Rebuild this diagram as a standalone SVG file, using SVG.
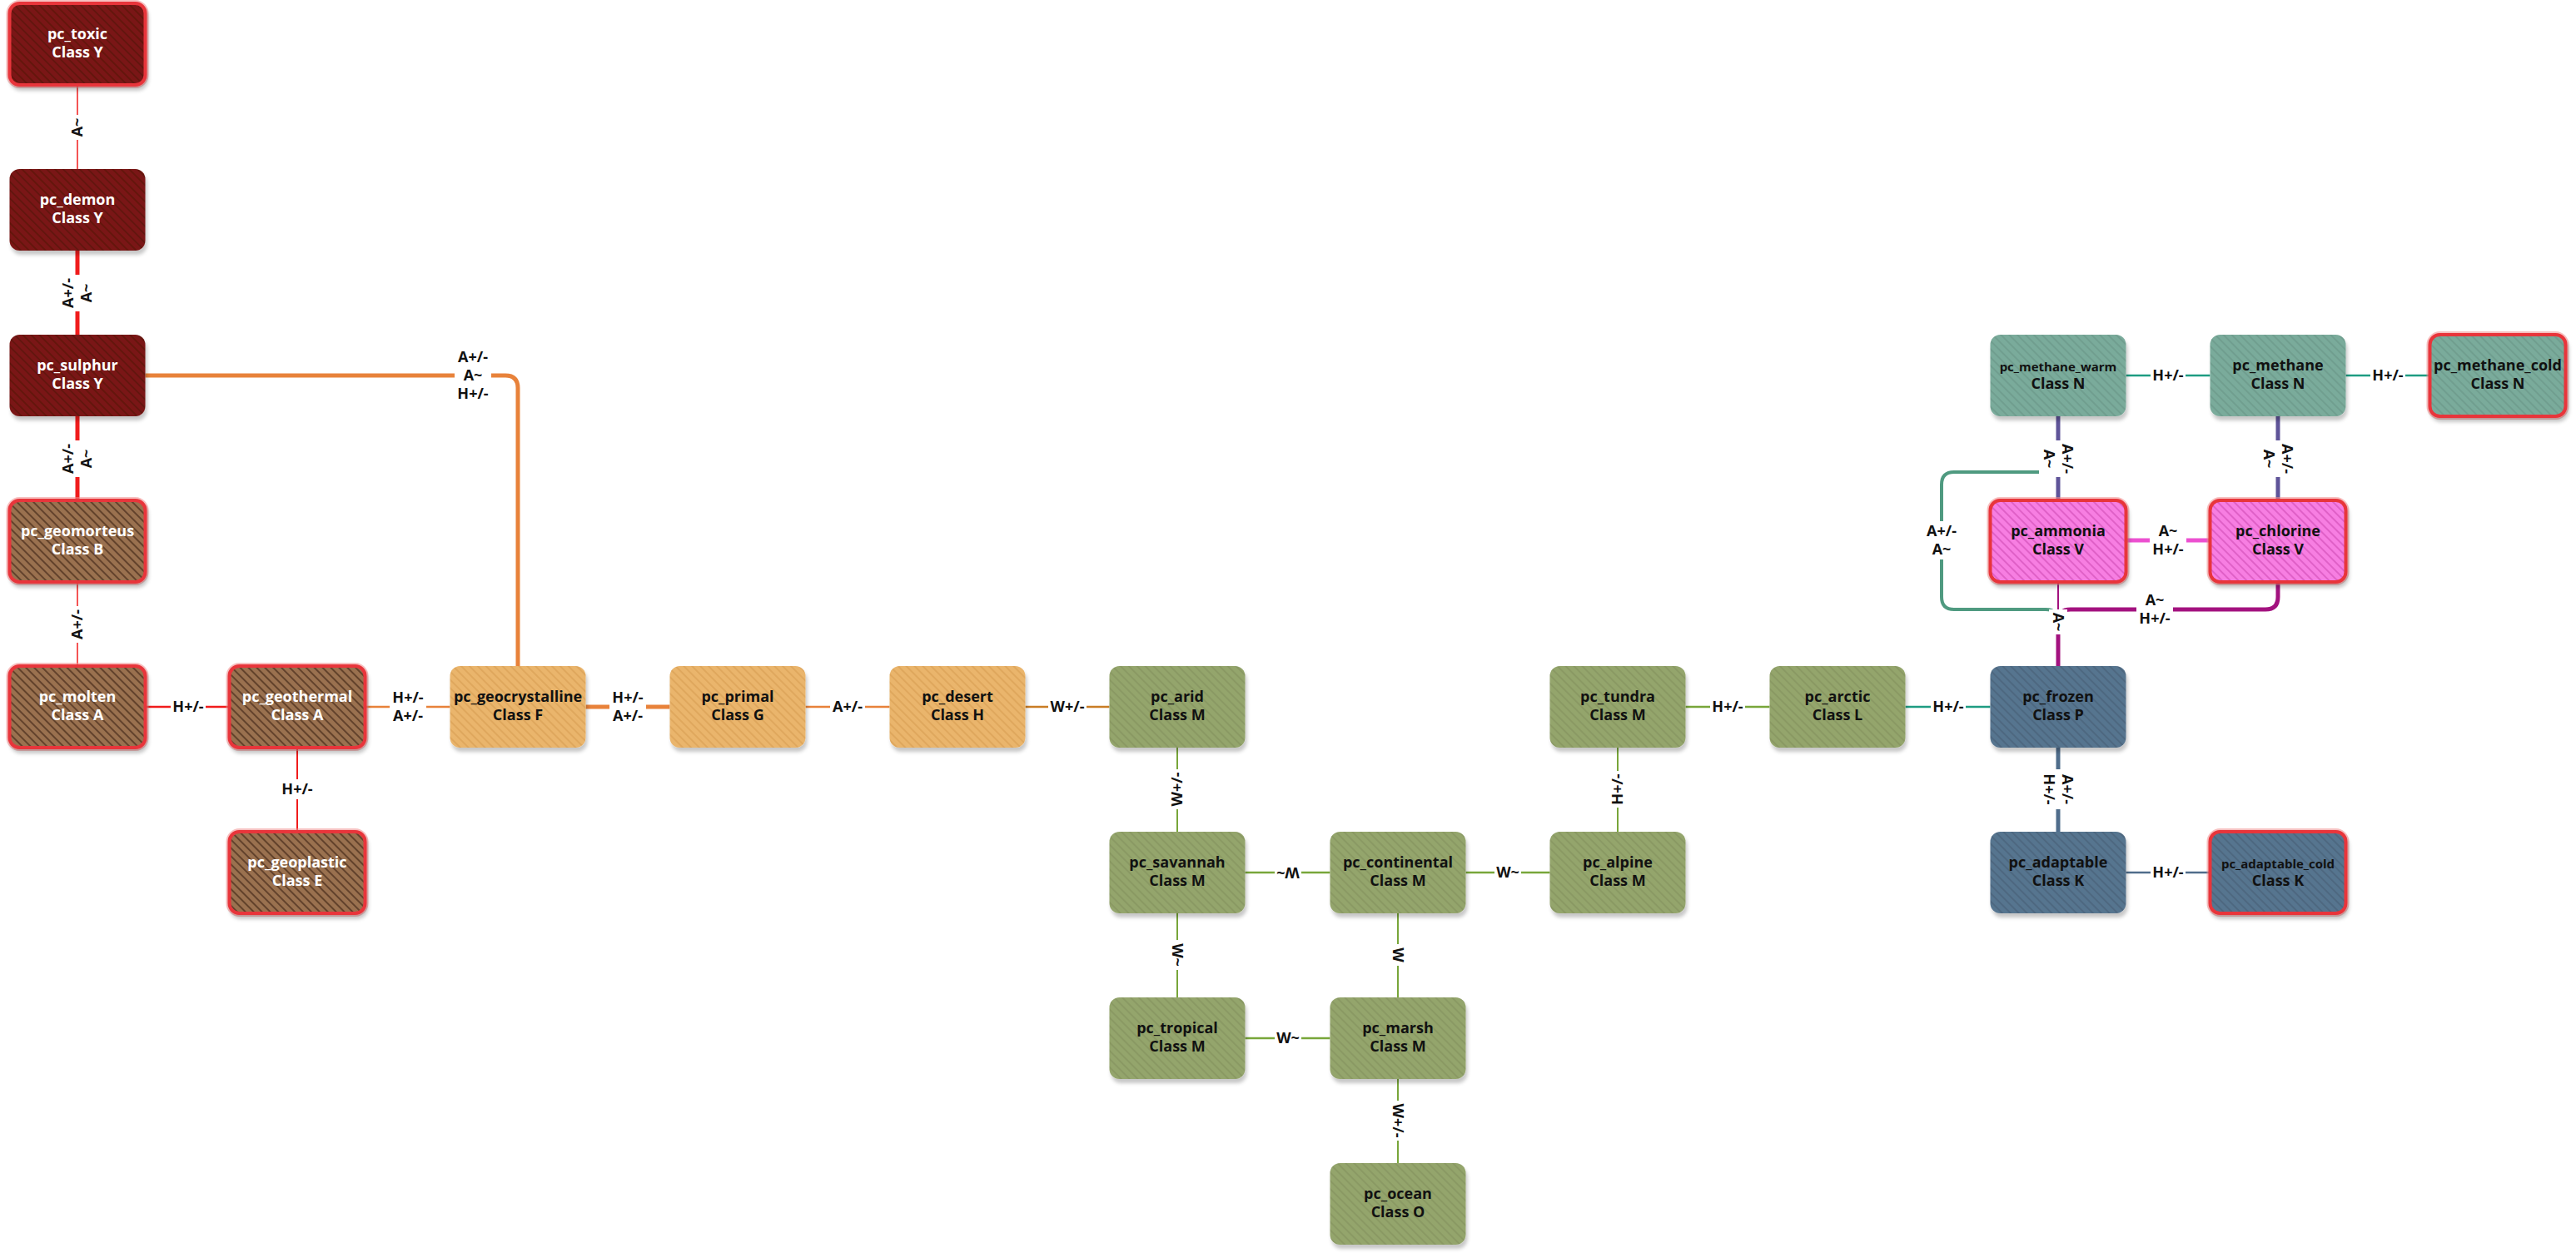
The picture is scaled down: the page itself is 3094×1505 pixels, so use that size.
<svg xmlns="http://www.w3.org/2000/svg" width="3094" height="1505" viewBox="0 0 3094 1505">
<style>
.nt{font-family:"Open Sans","Liberation Sans",sans-serif;font-weight:700;font-size:18px;text-anchor:middle}
.sm{font-size:15px}
.w{fill:#ffffff}
.k{fill:#111111}
.lt{font-family:"Open Sans","Liberation Sans",sans-serif;font-weight:700;font-size:18px;text-anchor:middle;fill:#111111}
.bg{fill:#ffffff}
.c{fill:none;stroke-linecap:butt}
.red{stroke:#f01c1c}
.org{stroke:#e8823a}
.dor{stroke:#c97d25}
.grn{stroke:#78a63a}
.tl{stroke:#1e9c82}
.tl2{stroke:#4f9a80}
.sl{stroke:#4f6d8b}
.pur{stroke:#5f5499}
.pnk{stroke:#ec4fd0}
.mag{stroke:#a3127f}
.s1{stroke-width:1.5}
.s2{stroke-width:2}
.s25{stroke-width:2.5}
.s4{stroke-width:4}
.s5{stroke-width:5}
.box{filter:url(#sh)}
.glow{fill:none;stroke:#f08c8c;stroke-width:8;stroke-opacity:0.55}
.hl{stroke:#e8353b;stroke-width:4}
</style>
<defs>
<filter id="sh" x="-10%" y="-10%" width="130%" height="140%">
<feDropShadow dx="2" dy="5" stdDeviation="2" flood-color="#000000" flood-opacity="0.22"/>
</filter>
<pattern id="hY" width="7" height="7" patternUnits="userSpaceOnUse" patternTransform="rotate(-45)"><rect width="7" height="7" fill="#7a1714"/><line x1="1" y1="0" x2="1" y2="7" stroke="#000" stroke-opacity="0.18" stroke-width="2"/></pattern>
<pattern id="hB" width="7" height="7" patternUnits="userSpaceOnUse" patternTransform="rotate(-45)"><rect width="7" height="7" fill="#9a7150"/><line x1="1" y1="0" x2="1" y2="7" stroke="#4e3220" stroke-opacity="0.75" stroke-width="2"/></pattern>
<pattern id="hO" width="7" height="7" patternUnits="userSpaceOnUse" patternTransform="rotate(-45)"><rect width="7" height="7" fill="#eab56c"/><line x1="1" y1="0" x2="1" y2="7" stroke="#c98a3c" stroke-opacity="0.3" stroke-width="2"/></pattern>
<pattern id="hG" width="7" height="7" patternUnits="userSpaceOnUse" patternTransform="rotate(-45)"><rect width="7" height="7" fill="#94a56c"/><line x1="1" y1="0" x2="1" y2="7" stroke="#000" stroke-opacity="0.07" stroke-width="2"/></pattern>
<pattern id="hS" width="7" height="7" patternUnits="userSpaceOnUse" patternTransform="rotate(-45)"><rect width="7" height="7" fill="#57748f"/><line x1="1" y1="0" x2="1" y2="7" stroke="#000" stroke-opacity="0.1" stroke-width="2"/></pattern>
<pattern id="hT" width="7" height="7" patternUnits="userSpaceOnUse" patternTransform="rotate(-45)"><rect width="7" height="7" fill="#7aab9b"/><line x1="1" y1="0" x2="1" y2="7" stroke="#000" stroke-opacity="0.08" stroke-width="2"/></pattern>
<pattern id="hP" width="7" height="7" patternUnits="userSpaceOnUse" patternTransform="rotate(-45)"><rect width="7" height="7" fill="#f77ee2"/><line x1="1" y1="0" x2="1" y2="7" stroke="#c43fa8" stroke-opacity="0.6" stroke-width="1.6"/></pattern>
</defs>
<rect width="3094" height="1505" fill="#ffffff"/>

<g id="connectors">
<path class="c tl2 s4" d="M2472,500 V567 H2347 Q2332,567 2332,582 V717 Q2332,732 2347,732 H2457 Q2472,732 2472,747 V800"/>
<path class="c red s1" d="M93,102 V203"/>
<path class="c red s5" d="M93,301 V402"/>
<path class="c red s5" d="M93,500 V601"/>
<path class="c red s1" d="M93,699 V800"/>
<path class="c red s25" d="M174.5,849 H275.5"/>
<path class="c red s2" d="M357,898 V999"/>
<path class="c org s25" d="M438.5,849 H540.5"/>
<path class="c org s5" d="M174.5,451 H607 Q622,451 622,466 V800"/>
<path class="c org s5" d="M703.5,849 H804.5"/>
<path class="c org s25" d="M967.5,849 H1068.5"/>
<path class="c dor s25" d="M1231.5,849 H1332.5"/>
<path class="c grn s2" d="M1414,898 V999"/>
<path class="c grn s25" d="M1495.5,1048 H1597.5"/>
<path class="c grn s25" d="M1760.5,1048 H1861.5"/>
<path class="c grn s2" d="M1943,898 V999"/>
<path class="c grn s25" d="M2024.5,849 H2125.5"/>
<path class="c tl s25" d="M2288.5,849 H2390.5"/>
<path class="c sl s5" d="M2472,898 V999"/>
<path class="c sl s25" d="M2553.5,1048 H2654.5"/>
<path class="c grn s2" d="M1414,1097 V1198"/>
<path class="c grn s2" d="M1679,1097 V1198"/>
<path class="c grn s25" d="M1495.5,1247 H1597.5"/>
<path class="c grn s2" d="M1679,1296 V1397"/>
<path class="c tl s25" d="M2553.5,451 H2654.5"/>
<path class="c tl s25" d="M2817.5,451 H2918.5"/>
<path class="c pur s5" d="M2472,500 V601"/>
<path class="c pur s5" d="M2736,500 V601"/>
<path class="c pnk s5" d="M2553.5,649 H2654.5"/>
<path class="c mag s5" d="M2736,699 V717 Q2736,732 2721,732 H2487 Q2472,732 2472,747 V800"/>
<path class="c mag s2" d="M2472,699 V800"/>

<g transform="translate(93,153) rotate(-90)"><rect class="bg" x="-15" y="-12" width="30" height="24"/><text class="lt" y="6">A~</text></g>
<g transform="translate(93,352) rotate(-90)"><rect class="bg" x="-22" y="-23" width="44" height="46"/><text class="lt"><tspan x="0" y="-5">A+/-</tspan><tspan x="0" y="17">A~</tspan></text></g>
<g transform="translate(93,551) rotate(-90)"><rect class="bg" x="-22" y="-23" width="44" height="46"/><text class="lt"><tspan x="0" y="-5">A+/-</tspan><tspan x="0" y="17">A~</tspan></text></g>
<g transform="translate(93,750) rotate(-90)"><rect class="bg" x="-22" y="-12" width="44" height="24"/><text class="lt" y="6">A+/-</text></g>
<g transform="translate(226,849)"><rect class="bg" x="-21" y="-12" width="42" height="24"/><text class="lt" y="6">H+/-</text></g>
<g transform="translate(357,948)"><rect class="bg" x="-21" y="-12" width="42" height="24"/><text class="lt" y="6">H+/-</text></g>
<g transform="translate(490,849)"><rect class="bg" x="-22" y="-23" width="44" height="46"/><text class="lt"><tspan x="0" y="-5">H+/-</tspan><tspan x="0" y="17">A+/-</tspan></text></g>
<g transform="translate(568,451)"><rect class="bg" x="-22" y="-34" width="44" height="68"/><text class="lt"><tspan x="0" y="-16">A+/-</tspan><tspan x="0" y="6">A~</tspan><tspan x="0" y="28">H+/-</tspan></text></g>
<g transform="translate(754,849)"><rect class="bg" x="-22" y="-23" width="44" height="46"/><text class="lt"><tspan x="0" y="-5">H+/-</tspan><tspan x="0" y="17">A+/-</tspan></text></g>
<g transform="translate(1018,849)"><rect class="bg" x="-21" y="-12" width="42" height="24"/><text class="lt" y="6">A+/-</text></g>
<g transform="translate(1282,849)"><rect class="bg" x="-23" y="-12" width="46" height="24"/><text class="lt" y="6">W+/-</text></g>
<g transform="translate(1414,948) rotate(-90)"><rect class="bg" x="-24" y="-12" width="48" height="24"/><text class="lt" y="6">W+/-</text></g>
<g transform="translate(1547,1048) rotate(180)"><rect class="bg" x="-16" y="-12" width="32" height="24"/><text class="lt" y="6">W~</text></g>
<g transform="translate(1811,1048)"><rect class="bg" x="-16" y="-12" width="32" height="24"/><text class="lt" y="6">W~</text></g>
<g transform="translate(1943,948) rotate(-90)"><rect class="bg" x="-22" y="-12" width="44" height="24"/><text class="lt" y="6">H+/-</text></g>
<g transform="translate(2075,849)"><rect class="bg" x="-21" y="-12" width="42" height="24"/><text class="lt" y="6">H+/-</text></g>
<g transform="translate(2340,849)"><rect class="bg" x="-21" y="-12" width="42" height="24"/><text class="lt" y="6">H+/-</text></g>
<g transform="translate(2472,948) rotate(90)"><rect class="bg" x="-24" y="-23" width="48" height="46"/><text class="lt"><tspan x="0" y="-5">A+/-</tspan><tspan x="0" y="17">H+/-</tspan></text></g>
<g transform="translate(2604,1048)"><rect class="bg" x="-21" y="-12" width="42" height="24"/><text class="lt" y="6">H+/-</text></g>
<g transform="translate(1414,1147) rotate(90)"><rect class="bg" x="-18" y="-12" width="36" height="24"/><text class="lt" y="6">W~</text></g>
<g transform="translate(1679,1147) rotate(90)"><rect class="bg" x="-13" y="-12" width="26" height="24"/><text class="lt" y="6">W</text></g>
<g transform="translate(1547,1247)"><rect class="bg" x="-16" y="-12" width="32" height="24"/><text class="lt" y="6">W~</text></g>
<g transform="translate(1679,1346) rotate(90)"><rect class="bg" x="-24" y="-12" width="48" height="24"/><text class="lt" y="6">W+/-</text></g>
<g transform="translate(2604,451)"><rect class="bg" x="-21" y="-12" width="42" height="24"/><text class="lt" y="6">H+/-</text></g>
<g transform="translate(2868,451)"><rect class="bg" x="-21" y="-12" width="42" height="24"/><text class="lt" y="6">H+/-</text></g>
<g transform="translate(2472,551) rotate(90)"><rect class="bg" x="-22" y="-23" width="44" height="46"/><text class="lt"><tspan x="0" y="-5">A+/-</tspan><tspan x="0" y="17">A~</tspan></text></g>
<g transform="translate(2736,551) rotate(90)"><rect class="bg" x="-22" y="-23" width="44" height="46"/><text class="lt"><tspan x="0" y="-5">A+/-</tspan><tspan x="0" y="17">A~</tspan></text></g>
<g transform="translate(2604,649)"><rect class="bg" x="-22" y="-23" width="44" height="46"/><text class="lt"><tspan x="0" y="-5">A~</tspan><tspan x="0" y="17">H+/-</tspan></text></g>
<g transform="translate(2332,649)"><rect class="bg" x="-22" y="-23" width="44" height="46"/><text class="lt"><tspan x="0" y="-5">A+/-</tspan><tspan x="0" y="17">A~</tspan></text></g>
<g transform="translate(2588,732)"><rect class="bg" x="-22" y="-23" width="44" height="46"/><text class="lt"><tspan x="0" y="-5">A~</tspan><tspan x="0" y="17">H+/-</tspan></text></g>
<g transform="translate(2472,747) rotate(90)"><rect class="bg" x="-15" y="-11" width="30" height="22"/><text class="lt" y="6">A~</text></g>
</g>

<g id="pc_toxic"><rect class="glow" x="11.5" y="4" width="163" height="98" rx="12"/><rect class="box hl" x="11.5" y="4" width="163" height="98" rx="12" fill="url(#hY)"/><text class="nt w"><tspan x="93" y="47">pc_toxic</tspan><tspan x="93" y="69">Class Y</tspan></text></g>
<g id="pc_demon"><rect class="box" x="11.5" y="203" width="163" height="98" rx="12" fill="url(#hY)"/><text class="nt w"><tspan x="93" y="246">pc_demon</tspan><tspan x="93" y="268">Class Y</tspan></text></g>
<g id="pc_sulphur"><rect class="box" x="11.5" y="402" width="163" height="98" rx="12" fill="url(#hY)"/><text class="nt w"><tspan x="93" y="445">pc_sulphur</tspan><tspan x="93" y="467">Class Y</tspan></text></g>
<g id="pc_geomorteus"><rect class="glow" x="11.5" y="601" width="163" height="98" rx="12"/><rect class="box hl" x="11.5" y="601" width="163" height="98" rx="12" fill="url(#hB)"/><text class="nt w"><tspan x="93" y="644">pc_geomorteus</tspan><tspan x="93" y="666">Class B</tspan></text></g>
<g id="pc_molten"><rect class="glow" x="11.5" y="800" width="163" height="98" rx="12"/><rect class="box hl" x="11.5" y="800" width="163" height="98" rx="12" fill="url(#hB)"/><text class="nt w"><tspan x="93" y="843">pc_molten</tspan><tspan x="93" y="865">Class A</tspan></text></g>
<g id="pc_geothermal"><rect class="glow" x="275.5" y="800" width="163" height="98" rx="12"/><rect class="box hl" x="275.5" y="800" width="163" height="98" rx="12" fill="url(#hB)"/><text class="nt w"><tspan x="357" y="843">pc_geothermal</tspan><tspan x="357" y="865">Class A</tspan></text></g>
<g id="pc_geoplastic"><rect class="glow" x="275.5" y="999" width="163" height="98" rx="12"/><rect class="box hl" x="275.5" y="999" width="163" height="98" rx="12" fill="url(#hB)"/><text class="nt w"><tspan x="357" y="1042">pc_geoplastic</tspan><tspan x="357" y="1064">Class E</tspan></text></g>
<g id="pc_geocrystalline"><rect class="box" x="540.5" y="800" width="163" height="98" rx="12" fill="url(#hO)"/><text class="nt k"><tspan x="622" y="843">pc_geocrystalline</tspan><tspan x="622" y="865">Class F</tspan></text></g>
<g id="pc_primal"><rect class="box" x="804.5" y="800" width="163" height="98" rx="12" fill="url(#hO)"/><text class="nt k"><tspan x="886" y="843">pc_primal</tspan><tspan x="886" y="865">Class G</tspan></text></g>
<g id="pc_desert"><rect class="box" x="1068.5" y="800" width="163" height="98" rx="12" fill="url(#hO)"/><text class="nt k"><tspan x="1150" y="843">pc_desert</tspan><tspan x="1150" y="865">Class H</tspan></text></g>
<g id="pc_arid"><rect class="box" x="1332.5" y="800" width="163" height="98" rx="12" fill="url(#hG)"/><text class="nt k"><tspan x="1414" y="843">pc_arid</tspan><tspan x="1414" y="865">Class M</tspan></text></g>
<g id="pc_savannah"><rect class="box" x="1332.5" y="999" width="163" height="98" rx="12" fill="url(#hG)"/><text class="nt k"><tspan x="1414" y="1042">pc_savannah</tspan><tspan x="1414" y="1064">Class M</tspan></text></g>
<g id="pc_tropical"><rect class="box" x="1332.5" y="1198" width="163" height="98" rx="12" fill="url(#hG)"/><text class="nt k"><tspan x="1414" y="1241">pc_tropical</tspan><tspan x="1414" y="1263">Class M</tspan></text></g>
<g id="pc_continental"><rect class="box" x="1597.5" y="999" width="163" height="98" rx="12" fill="url(#hG)"/><text class="nt k"><tspan x="1679" y="1042">pc_continental</tspan><tspan x="1679" y="1064">Class M</tspan></text></g>
<g id="pc_marsh"><rect class="box" x="1597.5" y="1198" width="163" height="98" rx="12" fill="url(#hG)"/><text class="nt k"><tspan x="1679" y="1241">pc_marsh</tspan><tspan x="1679" y="1263">Class M</tspan></text></g>
<g id="pc_ocean"><rect class="box" x="1597.5" y="1397" width="163" height="98" rx="12" fill="url(#hG)"/><text class="nt k"><tspan x="1679" y="1440">pc_ocean</tspan><tspan x="1679" y="1462">Class O</tspan></text></g>
<g id="pc_alpine"><rect class="box" x="1861.5" y="999" width="163" height="98" rx="12" fill="url(#hG)"/><text class="nt k"><tspan x="1943" y="1042">pc_alpine</tspan><tspan x="1943" y="1064">Class M</tspan></text></g>
<g id="pc_tundra"><rect class="box" x="1861.5" y="800" width="163" height="98" rx="12" fill="url(#hG)"/><text class="nt k"><tspan x="1943" y="843">pc_tundra</tspan><tspan x="1943" y="865">Class M</tspan></text></g>
<g id="pc_arctic"><rect class="box" x="2125.5" y="800" width="163" height="98" rx="12" fill="url(#hG)"/><text class="nt k"><tspan x="2207" y="843">pc_arctic</tspan><tspan x="2207" y="865">Class L</tspan></text></g>
<g id="pc_frozen"><rect class="box" x="2390.5" y="800" width="163" height="98" rx="12" fill="url(#hS)"/><text class="nt k"><tspan x="2472" y="843">pc_frozen</tspan><tspan x="2472" y="865">Class P</tspan></text></g>
<g id="pc_adaptable"><rect class="box" x="2390.5" y="999" width="163" height="98" rx="12" fill="url(#hS)"/><text class="nt k"><tspan x="2472" y="1042">pc_adaptable</tspan><tspan x="2472" y="1064">Class K</tspan></text></g>
<g id="pc_adaptable_cold"><rect class="glow" x="2654.5" y="999" width="163" height="98" rx="12"/><rect class="box hl" x="2654.5" y="999" width="163" height="98" rx="12" fill="url(#hS)"/><text class="nt k"><tspan class="sm" x="2736" y="1043">pc_adaptable_cold</tspan><tspan x="2736" y="1064">Class K</tspan></text></g>
<g id="pc_methane_warm"><rect class="box" x="2390.5" y="402" width="163" height="98" rx="12" fill="url(#hT)"/><text class="nt k"><tspan class="sm" x="2472" y="446">pc_methane_warm</tspan><tspan x="2472" y="467">Class N</tspan></text></g>
<g id="pc_methane"><rect class="box" x="2654.5" y="402" width="163" height="98" rx="12" fill="url(#hT)"/><text class="nt k"><tspan x="2736" y="445">pc_methane</tspan><tspan x="2736" y="467">Class N</tspan></text></g>
<g id="pc_methane_cold"><rect class="glow" x="2918.5" y="402" width="163" height="98" rx="12"/><rect class="box hl" x="2918.5" y="402" width="163" height="98" rx="12" fill="url(#hT)"/><text class="nt k"><tspan x="3000" y="445">pc_methane_cold</tspan><tspan x="3000" y="467">Class N</tspan></text></g>
<g id="pc_ammonia"><rect class="glow" x="2390.5" y="601" width="163" height="98" rx="12"/><rect class="box hl" x="2390.5" y="601" width="163" height="98" rx="12" fill="url(#hP)"/><text class="nt k"><tspan x="2472" y="644">pc_ammonia</tspan><tspan x="2472" y="666">Class V</tspan></text></g>
<g id="pc_chlorine"><rect class="glow" x="2654.5" y="601" width="163" height="98" rx="12"/><rect class="box hl" x="2654.5" y="601" width="163" height="98" rx="12" fill="url(#hP)"/><text class="nt k"><tspan x="2736" y="644">pc_chlorine</tspan><tspan x="2736" y="666">Class V</tspan></text></g>
</svg>
